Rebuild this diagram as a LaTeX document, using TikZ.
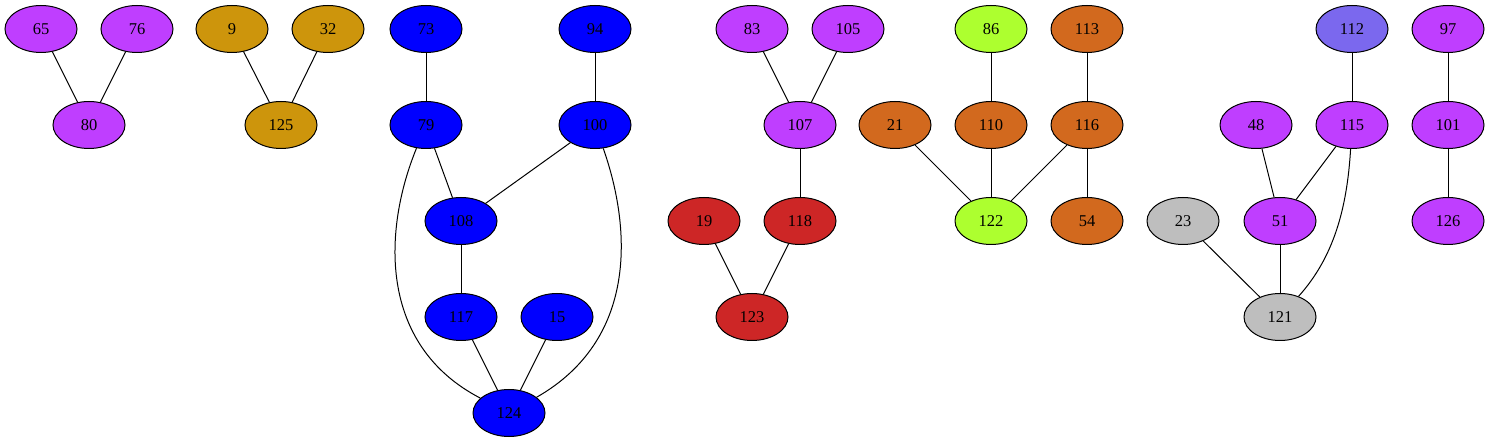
\documentclass[tikz,border=0pt]{standalone}
\usepackage{fontspec}
\setmainfont{Liberation Serif}
\usetikzlibrary{shapes.geometric}
\definecolor{cpur}{HTML}{BF3EFF}
\definecolor{cgold}{HTML}{CD950C}
\definecolor{cblue}{HTML}{0000FF}
\definecolor{cred}{HTML}{CD2626}
\definecolor{cgreen}{HTML}{ADFF2F}
\definecolor{corange}{HTML}{D2691E}
\definecolor{cgrey}{HTML}{BEBEBE}
\definecolor{cslate}{HTML}{7B68EE}
\tikzset{
  vtx/.style={ellipse, draw=black, line width=1pt, minimum width=72pt, minimum height=47pt, inner sep=0pt, font=\fontsize{16.5}{16.5}\selectfont},
  pur/.style={vtx, fill=cpur},
  gold/.style={vtx, fill=cgold},
  blu/.style={vtx, fill=cblue},
  red/.style={vtx, fill=cred},
  grn/.style={vtx, fill=cgreen},
  org/.style={vtx, fill=corange},
  gry/.style={vtx, fill=cgrey},
  slt/.style={vtx, fill=cslate},
  edge/.style={draw=black, line width=1pt}
}
\begin{document}
\begin{tikzpicture}[x=1pt,y=-1pt]
\useasboundingbox (0,0) rectangle (1491,443);
% row 1
\node[pur] (n65) at (41,29) {65};
\node[pur] (n76) at (137,29) {76};
\node[gold] (n9) at (232,29) {9};
\node[gold] (n32) at (328,29) {32};
\node[blu] (n73) at (426,29) {73};
\node[blu] (n94) at (595,29) {94};
\node[pur] (n83) at (752,29) {83};
\node[pur] (n105) at (848,29) {105};
\node[grn] (n86) at (991,29) {86};
\node[org] (n113) at (1087,29) {113};
\node[slt] (n112) at (1352,29) {112};
\node[pur] (n97) at (1448,29) {97};
% row 2
\node[pur] (n80) at (89,125) {80};
\node[gold] (n125) at (281,125) {125};
\node[blu] (n79) at (426,125) {79};
\node[blu] (n100) at (595,125) {100};
\node[pur] (n107) at (800,125) {107};
\node[org] (n21) at (895,125) {21};
\node[org] (n110) at (991,125) {110};
\node[org] (n116) at (1087,125) {116};
\node[pur] (n48) at (1256,125) {48};
\node[pur] (n115) at (1352,125) {115};
\node[pur] (n101) at (1448,125) {101};
% row 3
\node[blu] (n108) at (461,221) {108};
\node[red] (n19) at (704,221) {19};
\node[red] (n118) at (800,221) {118};
\node[grn] (n122) at (991,221) {122};
\node[org] (n54) at (1087,221) {54};
\node[gry] (n23) at (1183,221) {23};
\node[pur] (n51) at (1280,221) {51};
\node[pur] (n126) at (1448,221) {126};
% row 4
\node[blu] (n117) at (461,317) {117};
\node[blu] (n15) at (557,317) {15};
\node[red] (n123) at (752,317) {123};
\node[gry] (n121) at (1280,317) {121};
% row 5
\node[blu] (n124) at (509,413) {124};
% edges
\draw[edge] (n65) -- (n80);
\draw[edge] (n76) -- (n80);
\draw[edge] (n9) -- (n125);
\draw[edge] (n32) -- (n125);
\draw[edge] (n73) -- (n79);
\draw[edge] (n94) -- (n100);
\draw[edge] (n79) -- (n108);
\draw[edge] (n100) -- (n108);
\draw[edge] (n79) .. controls (383,230) and (378,345) .. (n124);
\draw[edge] (n100) .. controls (632,230) and (637,340) .. (n124);
\draw[edge] (n108) -- (n117);
\draw[edge] (n117) -- (n124);
\draw[edge] (n15) -- (n124);
\draw[edge] (n83) -- (n107);
\draw[edge] (n105) -- (n107);
\draw[edge] (n107) -- (n118);
\draw[edge] (n19) -- (n123);
\draw[edge] (n118) -- (n123);
\draw[edge] (n86) -- (n110);
\draw[edge] (n113) -- (n116);
\draw[edge] (n21) -- (n122);
\draw[edge] (n110) -- (n122);
\draw[edge] (n116) -- (n122);
\draw[edge] (n116) -- (n54);
\draw[edge] (n112) -- (n115);
\draw[edge] (n97) -- (n101);
\draw[edge] (n101) -- (n126);
\draw[edge] (n48) -- (n51);
\draw[edge] (n115) -- (n51);
\draw[edge] (n115) .. controls (1347,210) and (1333,258) .. (n121);
\draw[edge] (n23) -- (n121);
\draw[edge] (n51) -- (n121);
\end{tikzpicture}
\end{document}
